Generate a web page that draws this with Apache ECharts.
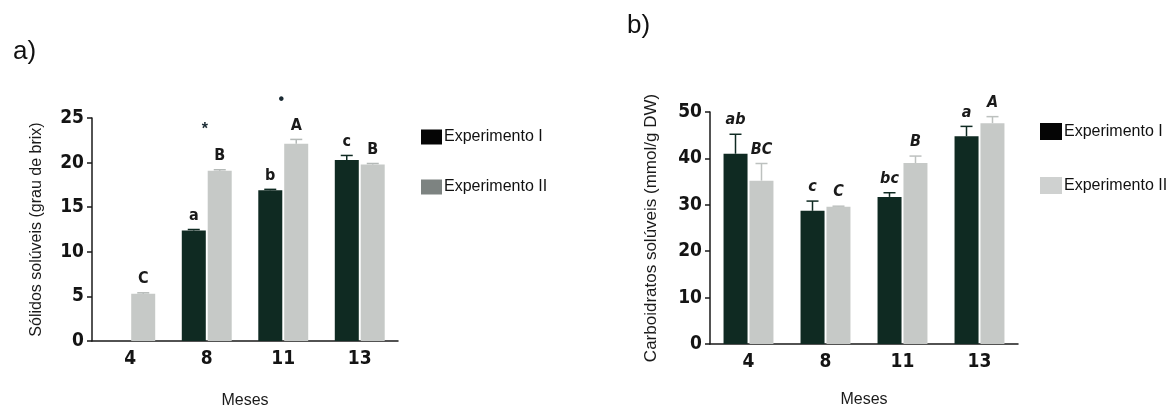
<!DOCTYPE html>
<html>
<head>
<meta charset="utf-8">
<script src="https://cdn.jsdelivr.net/npm/echarts@6/dist/echarts.min.js"></script>
<style>
html,body{margin:0;padding:0;background:#fff;}
#c{width:1171px;height:414px;}
</style>
</head>
<body>
<div id="c"></div>
<script>
// ---- data ----
const months = ['4', '8', '11', '13'];
const seriesNames = ['Experimento I', 'Experimento II'];

// a) Sólidos solúveis (grau de brix)
const solidosExpI = [null, 12.4, 16.9, 20.3];
const solidosExpII = [5.3, 19.1, 22.1, 19.8];
const solidosErrI = [null, 12.5, 17.0, 20.8];
const solidosErrII = [5.4, 19.2, 22.6, 19.9];
const solidosLetI = ['', 'a', 'b', 'c'];
const solidosLetII = ['C', 'B', 'A', 'B'];
const solidosSig = ['', '*', '•', ''];

// b) Carboidratos solúveis (mmol/g DW)
const carbExpI = [41.0, 28.7, 31.7, 44.8];
const carbExpII = [35.2, 29.6, 39.0, 47.6];
const carbErrI = [45.2, 30.8, 32.6, 46.9];
const carbErrII = [38.9, 29.7, 40.5, 49.0];
const carbLetI = ['ab', 'c', 'bc', 'a'];
const carbLetII = ['BC', 'C', 'B', 'A'];

// ---- styles ----
const DARK = '#0f2a22';
const LIGHT = '#c6c9c7';
const FONT = 'Liberation Sans';
const NARROW = '"Liberation Sans Narrow", "DejaVu Sans Condensed", "Liberation Sans"';
const BAR_W = 24;
const HALF = 13; // half of bar width + half gap

function errSeries(gi, vals, errs, letters, sign, color, italic) {
  return {
    type: 'custom', xAxisIndex: gi, yAxisIndex: gi, silent: true, z: 5,
    data: vals.map((v, i) => [i, v, errs[i]]),
    renderItem: function (params, api) {
      const i = api.value(0), v = api.value(1), e = api.value(2);
      if (v == null || isNaN(v)) return null;
      const base = api.coord([i, v]);
      const x = base[0] + sign * HALF;
      const children = [];
      let topY = base[1];
      if (e != null && !isNaN(e) && e > v) {
        const t = api.coord([i, e])[1];
        topY = t;
        children.push({type: 'line', shape: {x1: x, y1: base[1], x2: x, y2: t}, style: {stroke: color, lineWidth: 1.5}});
        children.push({type: 'line', shape: {x1: x - 6, y1: t, x2: x + 6, y2: t}, style: {stroke: color, lineWidth: 1.5}});
      }
      const lt = letters[i];
      if (lt) {
        children.push({type: 'text', style: {
          text: lt, x: x, y: topY - 6, align: 'center', verticalAlign: 'bottom',
          font: (italic ? 'italic ' : '') + 'bold 16px ' + NARROW, fill: '#1a1a1a'
        }});
      }
      return {type: 'group', children: children};
    }
  };
}

function sigSeries(gi, valsA, valsB, errA, errB, sig) {
  return {
    type: 'custom', xAxisIndex: gi, yAxisIndex: gi, silent: true, z: 6,
    data: sig.map((s, i) => [i, Math.max(valsA[i] || 0, valsB[i] || 0, errA[i] || 0, errB[i] || 0)]),
    renderItem: function (params, api) {
      const i = api.value(0);
      const s = sig[i];
      if (!s) return null;
      const p = api.coord([i, api.value(1)]);
      return {type: 'text', style: {text: s, x: p[0] - 2, y: p[1] - 40, align: 'center', verticalAlign: 'middle',
        font: 'bold 16px ' + FONT, fill: '#1a2a33'}};
    }
  };
}

function xAxis(gi) {
  return {
    type: 'category', gridIndex: gi, data: months,
    axisLine: {lineStyle: {color: '#1a1a1a', width: 1.5}},
    axisTick: {alignWithLabel: true, length: 5, lineStyle: {color: '#1a1a1a', width: 1.5}},
    axisLabel: {color: '#141414', fontFamily: NARROW, fontWeight: 'bold', fontSize: 19, margin: 9},
    name: 'Meses', nameLocation: 'middle', nameGap: gi === 0 ? 52 : 48,
    nameTextStyle: {color: '#1a1a1a', fontFamily: FONT, fontSize: 16}
  };
}
function yAxis(gi, max, interval, title, gap, size) {
  return {
    type: 'value', gridIndex: gi, min: 0, max: max, interval: interval,
    axisLine: {show: true, lineStyle: {color: '#1a1a1a', width: 1.5}},
    axisTick: {show: true, length: 5, lineStyle: {color: '#1a1a1a', width: 1.5}},
    splitLine: {show: false},
    axisLabel: {color: '#141414', fontFamily: NARROW, fontWeight: 'bold', fontSize: 19, margin: 8},
    name: title, nameLocation: 'middle', nameGap: gap, nameRotate: 90,
    nameTextStyle: {color: '#1a1a1a', fontFamily: FONT, fontSize: size}
  };
}

const chart = echarts.init(document.getElementById('c'), null, {renderer: 'canvas'});
chart.setOption({
  animation: false,
  backgroundColor: '#fff',
  title: [
    {text: 'a)', left: 8, top: 34, textStyle: {fontFamily: FONT, fontWeight: 'normal', fontSize: 26, color: '#111'}},
    {text: 'b)', left: 622, top: 8, textStyle: {fontFamily: FONT, fontWeight: 'normal', fontSize: 26, color: '#111'}}
  ],
  legend: [
    {orient: 'vertical', left: 416, top: 124, itemWidth: 21, itemHeight: 15, itemGap: 34, icon: 'rect',
     textStyle: {fontFamily: FONT, fontSize: 16, color: '#111', padding: [8, 0, 0, -3]},
     data: [{name: seriesNames[0], itemStyle: {color: '#050505'}}, {name: seriesNames[1], itemStyle: {color: '#7d8381'}}]},
    {orient: 'vertical', left: 1035, top: 118, itemWidth: 22, itemHeight: 17, itemGap: 37, icon: 'rect',
     textStyle: {fontFamily: FONT, fontSize: 16, color: '#111', padding: [0, 0, 0, -3]},
     data: [{name: seriesNames[0], itemStyle: {color: '#050505'}}, {name: seriesNames[1], itemStyle: {color: '#cfd1d0'}}]}
  ],
  grid: [
    {left: 92, top: 118, width: 306, height: 234},
    {left: 710, top: 112, width: 308, height: 232}
  ],
  xAxis: [xAxis(0), xAxis(1)],
  yAxis: [
    yAxis(0, 25, 5, 'Sólidos solúveis (grau de brix)', 47, 16),
    yAxis(1, 50, 10, 'Carboidratos solúveis (mmol/g DW)', 50, 17)
  ],
  series: [
    {name: seriesNames[0], type: 'bar', xAxisIndex: 0, yAxisIndex: 0, data: solidosExpI, barWidth: BAR_W, barGap: '8%', itemStyle: {color: DARK}},
    {name: seriesNames[1], type: 'bar', xAxisIndex: 0, yAxisIndex: 0, data: solidosExpII, barWidth: BAR_W, barGap: '8%', itemStyle: {color: LIGHT}},
    {name: seriesNames[0], type: 'bar', xAxisIndex: 1, yAxisIndex: 1, data: carbExpI, barWidth: BAR_W, barGap: '8%', itemStyle: {color: DARK}},
    {name: seriesNames[1], type: 'bar', xAxisIndex: 1, yAxisIndex: 1, data: carbExpII, barWidth: BAR_W, barGap: '8%', itemStyle: {color: LIGHT}},
    errSeries(0, solidosExpI, solidosErrI, solidosLetI, -1, DARK, false),
    errSeries(0, solidosExpII, solidosErrII, solidosLetII, 1, '#b4b9b7', false),
    sigSeries(0, solidosExpI, solidosExpII, solidosErrI, solidosErrII, solidosSig),
    errSeries(1, carbExpI, carbErrI, carbLetI, -1, DARK, true),
    errSeries(1, carbExpII, carbErrII, carbLetII, 1, '#bdc1bf', true)
  ]
});
</script>
</body>
</html>
